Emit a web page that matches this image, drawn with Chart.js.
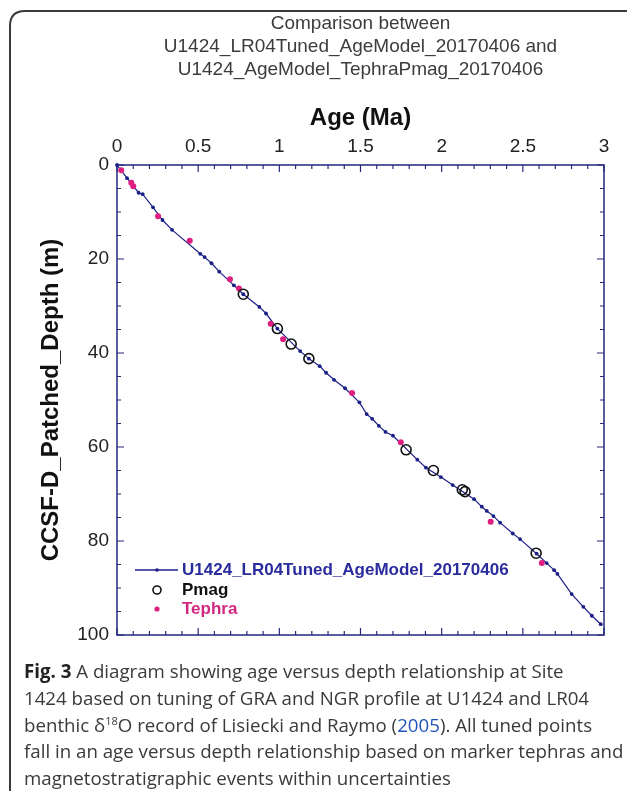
<!DOCTYPE html>
<html>
<head>
<meta charset="utf-8">
<script src="https://cdn.jsdelivr.net/npm/chart.js"></script>
<style>
  html, body { margin: 0; padding: 0; background: #fff; }
  body { width: 627px; height: 791px; position: relative; overflow: hidden; }
  #frame { position: absolute; left: 0; top: 0; }
  #grafico { position: absolute; left: 0; top: 0; }
  #legenda {
    position: absolute; left: 24px; top: 658px;
    font-family: "Open Sans", sans-serif; font-size: 18.7px; line-height: 26.8px;
    color: #3a3a3a; white-space: nowrap;
  }
  #legenda b { color: #222; }
  #legenda a { color: #2255b8; text-decoration: none; }
  #legenda sup { font-size: 11px; line-height: 0; }
</style>
</head>
<body>
<svg id="frame" width="627" height="791">
  <path d="M10 791 L10 26 Q10 11 25 11 L627 11" fill="none" stroke="#3a3a3a" stroke-width="2"/>
</svg>
<canvas id="grafico" width="627" height="660"></canvas>
<div id="legenda">
  <div><b>Fig. 3</b> A diagram showing age versus depth relationship at Site</div>
  <div>1424 based on tuning of GRA and NGR profile at U1424 and LR04</div>
  <div>benthic δ<sup>18</sup>O record of Lisiecki and Raymo (<a>2005</a>). All tuned points</div>
  <div>fall in an age versus depth relationship based on marker tephras and</div>
  <div>magnetostratigraphic events within uncertainties</div>
</div>
<script>
// curva do modelo de idade (LR04 tuned)
const idadeModelo = [0, 0.062, 0.133, 0.158, 0.222, 0.28, 0.339, 0.513, 0.54, 0.582, 0.63, 0.72, 0.778,
  0.877, 0.918, 0.988, 1.128, 1.182, 1.249, 1.288, 1.337, 1.405, 1.493, 1.538, 1.572, 1.613, 1.654, 1.70,
  1.85, 1.903, 1.995, 2.068, 2.20, 2.247, 2.278, 2.319, 2.36, 2.438, 2.483, 2.585, 2.647, 2.693, 2.713,
  2.801, 2.873, 2.925, 2.98];
const profModelo = [0, 2.8, 5.9, 6.2, 9.0, 11.7, 13.8, 18.9, 19.6, 20.9, 22.7, 25.6, 27.5,
  30.2, 31.6, 34.8, 39.6, 41.2, 42.8, 44.2, 45.7, 47.5, 50.5, 53.0, 54.0, 55.5, 56.8, 57.6,
  62.7, 64.4, 66.4, 68.1, 71.1, 72.7, 73.6, 74.7, 76.1, 78.4, 79.6, 82.7, 84.7, 86.2, 87.0,
  91.3, 94.0, 95.9, 97.7];

// pontos paleomagneticos
const idadePmag = [0.778, 0.988, 1.073, 1.182, 1.781, 1.949, 2.127, 2.144, 2.582];
const profPmag = [27.5, 34.8, 38.1, 41.2, 60.6, 65.0, 69.1, 69.5, 82.6];

// tefras
const idadeTefra = [0.026, 0.088, 0.10, 0.253, 0.448, 0.696, 0.751, 0.947, 1.023, 1.448, 1.748, 2.302, 2.617];
const profTefra = [1.1, 3.8, 4.5, 10.9, 16.1, 24.3, 26.3, 33.8, 37.1, 48.5, 59.0, 75.9, 84.7];

const tituloLinhas = ['Comparison between', 'U1424_LR04Tuned_AgeModel_20170406 and', 'U1424_AgeModel_TephraPmag_20170406'];
const ticksIdade = [0, 0.5, 1, 1.5, 2, 2.5, 3];
const ticksProf = [0, 20, 40, 60, 80, 100];

const azul = '#1c1f86';
const rosa = '#de1f80';
const eixoCor = '#24297c';

function pares(xs, ys) {
  return xs.map((x, i) => ({ x: x, y: ys[i] }));
}

// caixa do grafico com tracinhos para dentro e legenda interna
const caixaPlugin = {
  id: 'caixa',
  beforeDatasetsDraw(chart) {
    const ctx = chart.ctx;
    const a = chart.chartArea;
    const sx = chart.scales.x, sy = chart.scales.y;
    ctx.save();
    ctx.strokeStyle = eixoCor;
    ctx.lineWidth = 1.5;
    ctx.strokeRect(a.left, a.top, a.right - a.left, a.bottom - a.top);
    ctx.lineWidth = 1.2;
    ctx.beginPath();
    for (let i = 0; i <= 30; i++) {
      const px = sx.getPixelForValue(i / 10);
      const len = i % 5 === 0 ? 7 : 4;
      ctx.moveTo(px, a.top); ctx.lineTo(px, a.top + len);
      ctx.moveTo(px, a.bottom); ctx.lineTo(px, a.bottom - len);
    }
    for (let i = 0; i <= 20; i++) {
      const py = sy.getPixelForValue(i * 5);
      const len = i % 4 === 0 ? 7 : 4;
      ctx.moveTo(a.left, py); ctx.lineTo(a.left + len, py);
      ctx.moveTo(a.right, py); ctx.lineTo(a.right - len, py);
    }
    ctx.stroke();
    ctx.restore();
  },
  afterDatasetsDraw(chart) {
    const ctx = chart.ctx;
    const ds = chart.data.datasets;
    const x0 = 135, xm = 157, xt = 182;
    const ys = [570, 590, 609];
    ctx.save();
    ctx.font = 'bold 17px "Liberation Sans", Arial, sans-serif';
    ctx.textBaseline = 'middle';
    ctx.textAlign = 'left';
    // linha
    ctx.strokeStyle = azul; ctx.lineWidth = 1.3;
    ctx.beginPath(); ctx.moveTo(x0, ys[0]); ctx.lineTo(178, ys[0]); ctx.stroke();
    ctx.fillStyle = azul;
    ctx.beginPath(); ctx.arc(xm, ys[0], 1.8, 0, 2 * Math.PI); ctx.fill();
    ctx.fillStyle = '#2a2c9e';
    ctx.fillText(ds[0].label, xt, ys[0]);
    // pmag
    ctx.strokeStyle = '#111'; ctx.lineWidth = 1.6;
    ctx.beginPath(); ctx.arc(xm, ys[1], 4, 0, 2 * Math.PI); ctx.stroke();
    ctx.fillStyle = '#111';
    ctx.fillText(ds[1].label, xt, ys[1]);
    // tefra
    ctx.fillStyle = rosa;
    ctx.beginPath(); ctx.arc(xm, ys[2], 2.6, 0, 2 * Math.PI); ctx.fill();
    ctx.fillStyle = '#d2287f';
    ctx.fillText(ds[2].label, xt, ys[2]);
    ctx.restore();
  }
};

const ctx = document.getElementById('grafico').getContext('2d');
const chart = new Chart(ctx, {
  type: 'line',
  data: {
    datasets: [
      {
        label: 'U1424_LR04Tuned_AgeModel_20170406',
        data: pares(idadeModelo, profModelo),
        borderColor: azul,
        backgroundColor: azul,
        borderWidth: 1.2,
        pointRadius: 1.9,
        pointBorderWidth: 0,
        tension: 0,
        fill: false,
        clip: false,
        order: 3
      },
      {
        label: 'Pmag',
        data: pares(idadePmag, profPmag),
        showLine: false,
        pointStyle: 'circle',
        pointRadius: 5,
        pointBorderWidth: 1.6,
        pointBorderColor: '#111',
        pointBackgroundColor: 'rgba(0,0,0,0)',
        clip: false,
        order: 1
      },
      {
        label: 'Tephra',
        data: pares(idadeTefra, profTefra),
        showLine: false,
        pointRadius: 3,
        pointBorderWidth: 0,
        pointBackgroundColor: rosa,
        clip: false,
        order: 2
      }
    ]
  },
  options: {
    responsive: false,
    animation: false,
    layout: { padding: { left: 0, right: 23, top: 0, bottom: 25 } },
    plugins: {
      legend: { display: false },
      tooltip: { enabled: false },
      title: {
        display: true,
        fullSize: false,
        text: tituloLinhas,
        color: '#3c3c3c',
        font: { family: '"Liberation Sans", Arial, sans-serif', size: 19, weight: 'normal', lineHeight: '23px' },
        padding: { top: 12, bottom: 0 }
      }
    },
    scales: {
      x: {
        type: 'linear',
        position: 'top',
        min: 0,
        max: 3,
        afterBuildTicks: (s) => { s.ticks = ticksIdade.map(v => ({ value: v })); },
        afterFit: (s) => { s.height = 84; },
        grid: { display: false },
        border: { display: false },
        ticks: {
          padding: -1,
          color: '#222',
          font: { family: '"Liberation Sans", Arial, sans-serif', size: 19 },
          callback: (v) => String(+(+v).toFixed(2))
        },
        title: {
          display: true,
          text: 'Age (Ma)',
          color: '#111',
          font: { family: '"Liberation Sans", Arial, sans-serif', size: 24, weight: 'bold' },
          padding: { top: 23, bottom: 0 }
        }
      },
      y: {
        type: 'linear',
        reverse: true,
        min: 0,
        max: 100,
        afterBuildTicks: (s) => { s.ticks = ticksProf.map(v => ({ value: v })); },
        afterFit: (s) => { s.width = 117; },
        grid: { display: false },
        border: { display: false },
        ticks: {
          padding: 0,
          color: '#222',
          font: { family: '"Liberation Sans", Arial, sans-serif', size: 19 }
        },
        title: {
          display: true,
          text: 'CCSF-D_Patched_Depth (m)',
          color: '#111',
          font: { family: '"Liberation Sans", Arial, sans-serif', size: 24, weight: 'bold' },
          padding: { top: 37, bottom: 0 }
        }
      }
    }
  },
  plugins: [caixaPlugin]
});
</script>
</body>
</html>
